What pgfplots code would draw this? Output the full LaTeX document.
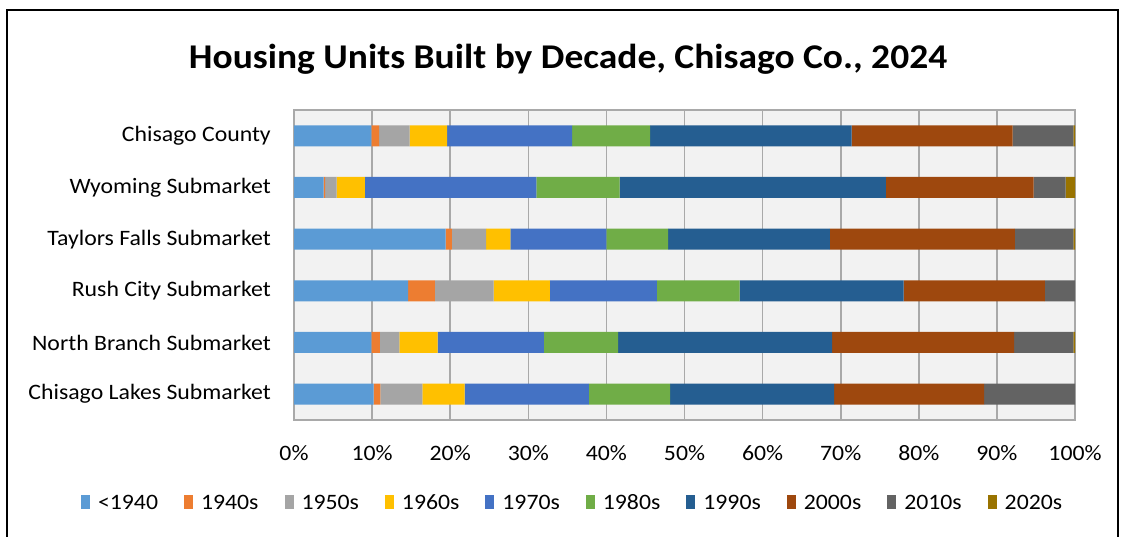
\documentclass[border=0pt]{standalone}
\usepackage{pgfplots}
\pgfplotsset{compat=1.18}
\usepackage{fontspec}
\setmainfont{Carlito}[FakeStretch=1.08]
\definecolor{c1}{HTML}{5B9BD5}
\definecolor{c2}{HTML}{ED7D31}
\definecolor{c3}{HTML}{A5A5A5}
\definecolor{c4}{HTML}{FFC000}
\definecolor{c5}{HTML}{4472C4}
\definecolor{c6}{HTML}{70AD47}
\definecolor{c7}{HTML}{255E91}
\definecolor{c8}{HTML}{9E480E}
\definecolor{c9}{HTML}{636363}
\definecolor{c10}{HTML}{997300}
\definecolor{gridc}{HTML}{A9A9A9}
\definecolor{bgc}{HTML}{F2F2F2}
\begin{document}
\begin{tikzpicture}[x=1pt,y=1pt]
\useasboundingbox (0,0) rectangle (1121,537);
\draw[black, line width=1.5pt] (7,0) -- (7,527) -- (1118,527) -- (1118,0);
\node[font=\fontsize{34.7}{40}\selectfont\bfseries] at (568,478) {Housing Units Built by Decade, Chisago Co., 2024};
\begin{axis}[
  at={(294pt,117pt)}, anchor=south west,
  scale only axis, width=781pt, height=310pt,
  xbar stacked, bar width=21pt,
  xmin=0, xmax=100, ymin=-0.5, ymax=5.5,
  xtick={0,10,...,100},
  xticklabels={0\%,10\%,20\%,30\%,40\%,50\%,60\%,70\%,80\%,90\%,100\%},
  ytick={0,1,2,3,4,5},
  yticklabels={Chisago Lakes Submarket,North Branch Submarket,Rush City Submarket,Taylors Falls Submarket,Wyoming Submarket,Chisago County},
  major tick length=0pt,
  tick label style={font=\fontsize{22}{26}\selectfont},
  yticklabel style={inner sep=0pt, anchor=east, xshift=-23pt},
  xticklabel style={inner sep=0pt, anchor=north, yshift=-25pt},
  xmajorgrids, major grid style={gridc, line width=1.6pt},
  axis line style={gridc, line width=1.6pt},
  axis background/.style={fill=bgc},
  legend columns=10,
  legend style={at={(0.351,-0.268)}, anchor=center, draw=none, fill=none,
    font=\fontsize{22}{26}\selectfont, column sep=15pt, inner sep=0pt},
  legend image code/.code={\path[draw=none, fill=none] (-9pt,-6pt) rectangle (0pt,8pt); \fill[#1, overlay] (0pt,-6pt) rectangle (9pt,8pt);},
]
\addplot[fill=c1, draw=none] coordinates {(10.2,0) (9.9,1) (14.6,2) (19.4,3) (3.8,4) (9.9,5)};
\addplot[fill=c2, draw=none] coordinates {(0.85,0) (1.1,1) (3.45,2) (0.8,3) (0.2,4) (1.0,5)};
\addplot[fill=c3, draw=none] coordinates {(5.4,0) (2.5,1) (7.5,2) (4.4,3) (1.45,4) (3.9,5)};
\addplot[fill=c4, draw=none] coordinates {(5.4,0) (4.9,1) (7.2,2) (3.1,3) (3.63,4) (4.8,5)};
\addplot[fill=c5, draw=none] coordinates {(15.9,0) (13.6,1) (13.7,2) (12.3,3) (21.94,4) (16.0,5)};
\addplot[fill=c6, draw=none] coordinates {(10.4,0) (9.5,1) (10.6,2) (7.9,3) (10.67,4) (10.0,5)};
\addplot[fill=c7, draw=none] coordinates {(21.0,0) (27.4,1) (21.0,2) (20.7,3) (34.1,4) (25.8,5)};
\addplot[fill=c8, draw=none] coordinates {(19.2,0) (23.3,1) (18.1,2) (23.7,3) (18.91,4) (20.6,5)};
\addplot[fill=c9, draw=none] coordinates {(11.7,0) (7.6,1) (3.9,2) (7.5,3) (4.09,4) (7.8,5)};
\addplot[fill=c10, draw=none] coordinates {(0,0) (0.2,1) (0,2) (0.2,3) (1.24,4) (0.2,5)};
\legend{<1940,1940s,1950s,1960s,1970s,1980s,1990s,2000s,2010s,2020s}
\end{axis}
\end{tikzpicture}
\end{document}
